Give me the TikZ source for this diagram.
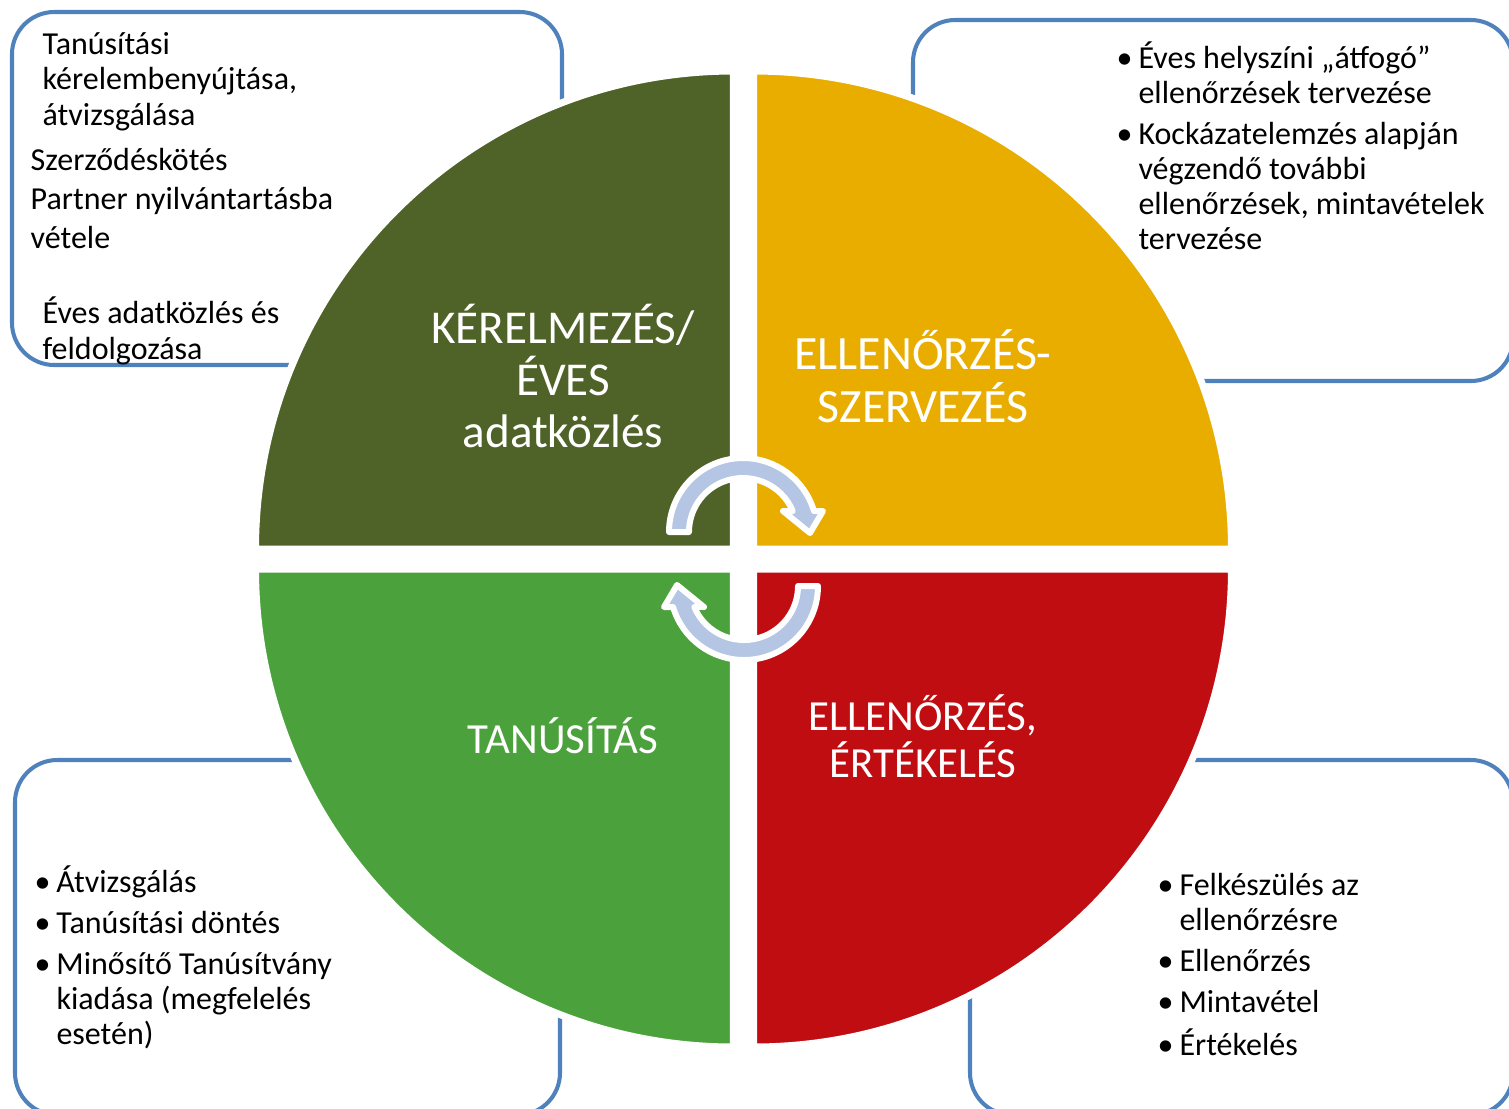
\documentclass[tikz,border=0pt]{standalone}
\usepackage{fontspec}
\setmainfont{Carlito}
\usepackage{xcolor}
\definecolor{phaseA}{RGB}{79,98,40}
\definecolor{phaseB}{RGB}{233,173,0}
\definecolor{phaseC}{RGB}{192,13,18}
\definecolor{phaseD}{RGB}{75,161,60}
\definecolor{frameblue}{RGB}{79,129,189}
\definecolor{cyclefill}{RGB}{180,198,228}

\tikzset{
  infobox/.style={draw=frameblue, line width=1.15pt, rounded corners=12pt, fill=white},
  quarter/.style={draw=white, line width=2pt},
  cyclearr/.style={fill=cyclefill, draw=white, line width=1.7pt, line join=round},
  boxtext/.style={anchor=base west, inner sep=0pt, align=left,
    font=\fontsize{9.1}{10}\selectfont},
  phasetext/.style={text=white, align=center, inner sep=0pt,
    font=\fontsize{13.4}{14.8}\selectfont},
}

\begin{document}
\begin{tikzpicture}[x=0.01cm, y=-0.01cm]

  \useasboundingbox (0,0) rectangle (1509,1108);
  \clip (0,0) rectangle (1509,1108);

  % Blue frames behind the circle
  \draw[infobox] (12,12) rectangle (562,365);
  \draw[infobox] (913,20) rectangle (1513,381);
  \draw[infobox] (15,760) rectangle (560,1115);
  \draw[infobox] (970,760) rectangle (1513,1115);

  % Quarter discs (white outline gives the gaps)
  \filldraw[quarter, fill=phaseA] (733.5,549) -- ++(-478,0)
    arc[start angle=180, end angle=270, radius=478] -- cycle;
  \filldraw[quarter, fill=phaseB] (753.5,549) -- ++(0,-478)
    arc[start angle=270, end angle=360, radius=478] -- cycle;
  \filldraw[quarter, fill=phaseC] (753.5,569) -- ++(478,0)
    arc[start angle=0, end angle=90, radius=478] -- cycle;
  \filldraw[quarter, fill=phaseD] (733.5,569) -- ++(0,478)
    arc[start angle=90, end angle=180, radius=478] -- cycle;

  % Cycle arrows in the middle
  \begin{scope}[shift={(743,532)}]
    \filldraw[cyclearr] (180:74) arc[start angle=180, end angle=343.5, radius=74]
      -- (80,-21) -- (67,1) -- (40,-21)
      -- (337.2:54) arc[start angle=337.2, end angle=180, radius=54] -- cycle;
  \end{scope}
  \begin{scope}[shift={(744,586)}, rotate=180]
    \filldraw[cyclearr] (180:74) arc[start angle=180, end angle=343.5, radius=74]
      -- (80,-21) -- (67,1) -- (40,-21)
      -- (337.2:54) arc[start angle=337.2, end angle=180, radius=54] -- cycle;
  \end{scope}

  % Phase titles
  \node[phasetext] (kerelmezes) at (563,376) {KÉRELMEZÉS/\\ÉVES\\adatközlés};
  \node[phasetext, font=\fontsize{13.6}{15}\selectfont] (szervezes) at (923,376) {ELLENŐRZÉS-\\SZERVEZÉS};
  \node[phasetext, font=\fontsize{12.2}{13.4}\selectfont] (ertekeles) at (923,736) {ELLENŐRZÉS,\\ÉRTÉKELÉS};
  \node[phasetext, font=\fontsize{12.2}{13.4}\selectfont] (tanusitas) at (563,736) {TANÚSÍTÁS};

  % Top left frame
  \node[boxtext] (kerelemA) at (42,125) {Tanúsítási\\kérelembenyújtása,\\átvizsgálása};
  \node[boxtext, font=\fontsize{9.1}{11}\selectfont] (kerelemB) at (30,248)
    {Szerződéskötés\\Partner nyilvántartásba\\vétele};
  \node[boxtext] (kerelemC) at (42,359) {Éves adatközlés és\\feldolgozása};

  % Top right frame
  \node[boxtext] (szervList) at (1116,68) {\begin{tabular}[t]{@{}p{6.2pt}@{}l@{}}
    • & Éves helyszíni „átfogó”\\
      & ellenőrzések tervezése\\[1.7pt]
    • & Kockázatelemzés alapján\\
      & végzendő további\\
      & ellenőrzések, mintavételek\\
      & tervezése
  \end{tabular}};

  % Bottom left frame
  \node[boxtext] (tanuList) at (34,892) {\begin{tabular}[t]{@{}p{6.2pt}@{}l@{}}
    • & Átvizsgálás\\[1.7pt]
    • & Tanúsítási döntés\\[1.7pt]
    • & Minősítő Tanúsítvány\\
      & kiadása (megfelelés\\
      & esetén)
  \end{tabular}};

  % Bottom right frame
  \node[boxtext] (ertList) at (1157,895) {\begin{tabular}[t]{@{}p{6.2pt}@{}l@{}}
    • & Felkészülés az\\
      & ellenőrzésre\\[1.7pt]
    • & Ellenőrzés\\[1.7pt]
    • & Mintavétel\\[1.7pt]
    • & Értékelés
  \end{tabular}};

\end{tikzpicture}
\end{document}
